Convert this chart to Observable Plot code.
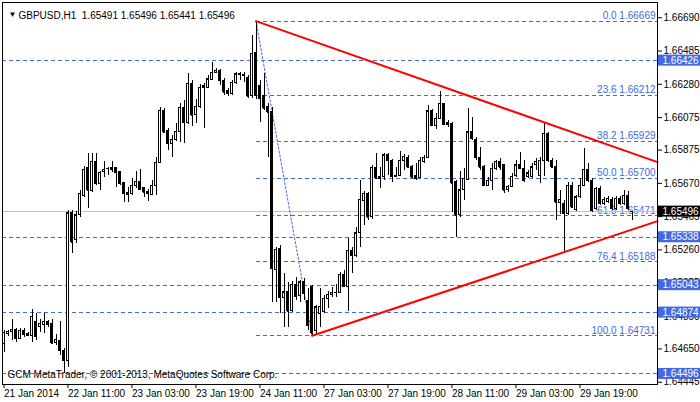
<!DOCTYPE html>
<html><head><meta charset="utf-8">
<script src="https://cdn.jsdelivr.net/npm/d3@7"></script>
<script src="https://cdn.jsdelivr.net/npm/@observablehq/plot@0.6"></script>
<style>body{margin:0;background:#fff} svg{display:block}</style>
</head><body><div id="chart"></div>
<script>
const opens = [1.64683,1.64745,1.64753,1.64768,1.64712,1.64763,1.64743,1.64732,1.64814,1.64784,1.64798,1.64819,1.64804,1.64685,1.64702,1.64640,1.64578,1.65486,1.65318,1.65472,1.65595,1.65765,1.65621,1.65804,1.65667,1.65743,1.65757,1.65753,1.65763,1.65738,1.65671,1.65609,1.65605,1.65652,1.65681,1.65640,1.65615,1.65601,1.65655,1.65794,1.66118,1.65995,1.65913,1.65940,1.65985,1.66135,1.66043,1.66283,1.66088,1.66143,1.66258,1.66258,1.66308,1.66351,1.66365,1.66303,1.66237,1.66221,1.66289,1.66338,1.66330,1.66322,1.66205,1.66474,1.66272,1.66205,1.66143,1.66108,1.65137,1.65266,1.64965,1.64999,1.64886,1.65045,1.64974,1.65061,1.64948,1.65034,1.64763,1.64866,1.64876,1.64958,1.64983,1.64995,1.64995,1.65106,1.65030,1.65256,1.65225,1.65363,1.65564,1.65605,1.65461,1.65765,1.65698,1.65712,1.65843,1.65810,1.65712,1.65718,1.65810,1.65827,1.65769,1.65718,1.65704,1.65800,1.65827,1.66114,1.66026,1.66067,1.66160,1.66040,1.66038,1.65677,1.65472,1.65626,1.65691,1.65985,1.65938,1.65827,1.65769,1.65656,1.65687,1.65759,1.65804,1.65780,1.65626,1.65650,1.65715,1.65780,1.65759,1.65708,1.65708,1.65780,1.65718,1.65810,1.65975,1.65810,1.65769,1.65546,1.65544,1.65482,1.65656,1.65507,1.65584,1.65656,1.65753,1.65687,1.65513,1.65636,1.65544,1.65554,1.65568,1.65513,1.65574,1.65544,1.65595,1.65491];
const highs = [1.64763,1.64763,1.64829,1.64777,1.64774,1.64774,1.64753,1.64891,1.64870,1.64829,1.64870,1.64825,1.64829,1.64739,1.64819,1.64652,1.65502,1.65502,1.65496,1.65626,1.65773,1.65852,1.65852,1.65852,1.65744,1.65806,1.65769,1.65806,1.65769,1.65744,1.65677,1.65646,1.65698,1.65744,1.65753,1.65646,1.65630,1.65687,1.65831,1.66139,1.66129,1.66006,1.65964,1.66036,1.66160,1.66180,1.66344,1.66303,1.66184,1.66279,1.66285,1.66334,1.66416,1.66375,1.66371,1.66314,1.66252,1.66303,1.66354,1.66354,1.66354,1.66334,1.66580,1.66669,1.66303,1.66344,1.66160,1.66139,1.65276,1.65287,1.65116,1.65061,1.65067,1.65092,1.65071,1.65082,1.65020,1.65040,1.64917,1.65020,1.64979,1.65005,1.65026,1.65047,1.65122,1.65133,1.65332,1.65276,1.65400,1.65687,1.65621,1.65615,1.65780,1.65852,1.65765,1.65855,1.65852,1.65815,1.65765,1.65868,1.65847,1.65841,1.65780,1.65790,1.65827,1.65841,1.66149,1.66123,1.66098,1.66237,1.66160,1.66057,1.66046,1.65687,1.65744,1.65759,1.66129,1.66075,1.65952,1.65892,1.65780,1.65708,1.65790,1.65810,1.65821,1.65780,1.65656,1.65728,1.65810,1.65862,1.65810,1.65749,1.65790,1.65821,1.65831,1.66046,1.65983,1.65823,1.65810,1.65626,1.65564,1.65677,1.65675,1.65595,1.65698,1.65887,1.65792,1.65700,1.65646,1.65650,1.65582,1.65589,1.65582,1.65589,1.65589,1.65626,1.65621,1.65496];
const lows = [1.64628,1.64726,1.64702,1.64691,1.64706,1.64722,1.64726,1.64691,1.64702,1.64753,1.64743,1.64784,1.64681,1.64671,1.64609,1.64496,1.64537,1.65236,1.65297,1.65459,1.65582,1.65513,1.65613,1.65656,1.65626,1.65708,1.65718,1.65736,1.65646,1.65656,1.65554,1.65554,1.65595,1.65636,1.65626,1.65584,1.65560,1.65595,1.65595,1.65790,1.65977,1.65872,1.65827,1.65927,1.65923,1.65917,1.66032,1.66020,1.66036,1.66129,1.66006,1.66254,1.66303,1.66344,1.66272,1.66211,1.66206,1.66211,1.66279,1.66303,1.66293,1.66190,1.66190,1.66184,1.66046,1.66118,1.65831,1.64938,1.64938,1.64866,1.64784,1.64784,1.64876,1.64948,1.64938,1.64948,1.64763,1.64731,1.64732,1.64784,1.64868,1.64897,1.64968,1.64968,1.64989,1.65030,1.64880,1.65112,1.65213,1.65276,1.65410,1.65441,1.65445,1.65698,1.65636,1.65687,1.65718,1.65677,1.65708,1.65712,1.65749,1.65759,1.65698,1.65687,1.65698,1.65790,1.65821,1.66020,1.66001,1.66061,1.66026,1.66016,1.65492,1.65338,1.65459,1.65564,1.65687,1.65934,1.65810,1.65749,1.65650,1.65650,1.65626,1.65749,1.65749,1.65605,1.65613,1.65644,1.65709,1.65755,1.65675,1.65698,1.65700,1.65749,1.65667,1.65712,1.65798,1.65761,1.65441,1.65478,1.65246,1.65472,1.65515,1.65496,1.65576,1.65650,1.65675,1.65490,1.65502,1.65533,1.65533,1.65546,1.65502,1.65502,1.65533,1.65533,1.65502,1.65441];
const closes = [1.64751,1.64757,1.64768,1.64712,1.64763,1.64737,1.64731,1.64849,1.64726,1.64804,1.64819,1.64798,1.64685,1.64706,1.64640,1.64578,1.65486,1.65307,1.65472,1.65605,1.65753,1.65626,1.65804,1.65667,1.65735,1.65755,1.65759,1.65763,1.65735,1.65667,1.65605,1.65599,1.65655,1.65681,1.65630,1.65615,1.65605,1.65655,1.65796,1.66118,1.65985,1.65913,1.65940,1.65989,1.66135,1.66043,1.66283,1.66088,1.66143,1.66258,1.66268,1.66311,1.66351,1.66365,1.66303,1.66231,1.66221,1.66289,1.66342,1.66342,1.66337,1.66205,1.66468,1.66211,1.66190,1.66133,1.66108,1.65143,1.65260,1.64965,1.64999,1.64882,1.65045,1.64973,1.65061,1.64989,1.64794,1.64747,1.64907,1.64911,1.64958,1.64985,1.64995,1.64997,1.65106,1.65034,1.65256,1.65225,1.65363,1.65568,1.65605,1.65461,1.65765,1.65701,1.65708,1.65843,1.65810,1.65712,1.65718,1.65810,1.65835,1.65769,1.65708,1.65698,1.65810,1.65827,1.66114,1.66026,1.66067,1.66160,1.66032,1.66032,1.65671,1.65472,1.65626,1.65698,1.65985,1.65944,1.65827,1.65769,1.65656,1.65687,1.65759,1.65804,1.65769,1.65626,1.65650,1.65712,1.65780,1.65759,1.65687,1.65732,1.65769,1.65804,1.65810,1.65975,1.65810,1.65769,1.65554,1.65570,1.65482,1.65656,1.65523,1.65584,1.65656,1.65753,1.65687,1.65502,1.65636,1.65544,1.65568,1.65574,1.65513,1.65574,1.65544,1.65595,1.65513,1.65496];

const timeTickIndex = [0,16,32,48,64,80,96,112,128,144];
const timeTickLabels = ["21 Jan 2014","22 Jan 11:00","23 Jan 03:00","23 Jan 19:00","24 Jan 11:00","27 Jan 03:00","27 Jan 19:00","28 Jan 11:00","29 Jan 03:00","29 Jan 19:00"];
const priceTicks = [1.66690,1.66485,1.66280,1.66075,1.65875,1.65670,1.65465,1.65260,1.65055,1.64850,1.64650,1.64445];

const fibRatios = ["0.0","23.6","38.2","50.0","61.8","76.4","100.0"];
const fibLevels = [1.66669,1.66212,1.65929,1.65700,1.65471,1.65188,1.64731];
const fibHighIndex = 63, fibLowIndex = 77;
const hLevels = [1.66426,1.65338,1.65043,1.64874,1.64496];
const bidPrice = 1.65496;
const upperTrend = [[63,1.66669],[135,1.66046]];
const lowerTrend = [[77,1.64731],[140,1.65246]];
const titleText = "GBPUSD,H1  1.65491 1.65496 1.65441 1.65496";
const footerText = "GCM MetaTrader, \u00A9 2001-2013, MetaQuotes Software Corp.";

const candles = opens.map((o, i) => ({i, open: o, high: highs[i], low: lows[i], close: closes[i], up: closes[i] >= o}));
const xMin = -0.375, xMax = 163.375;
const yMin = 1.64431, yMax = 1.66784;
const blue = "#4169e1";

function ray(a, b) {
  const s = (b[1] - a[1]) / (b[0] - a[0]);
  return [{x: a[0], y: a[1]}, {x: xMax, y: a[1] + s * (xMax - a[0])}];
}
const fibRows = fibLevels.map((v, k) => ({v, label: fibRatios[k] + " " + v.toFixed(5)}));
const fibDiag = [{x: fibHighIndex, y: fibLevels[0]}, {x: fibLowIndex, y: fibLevels[6]}];

const chart = Plot.plot({
  width: 700, height: 402,
  marginLeft: 2, marginRight: 43, marginTop: 2, marginBottom: 18,
  x: {type: "linear", domain: [xMin, xMax], axis: null},
  y: {type: "linear", domain: [yMin, yMax], axis: null},
  style: {fontFamily: "'Liberation Sans', Arial, sans-serif", fontSize: "10px", background: "#fff", color: "#000", overflow: "visible"},
  marks: [
    Plot.ruleY(hLevels, {y: d => d, stroke: blue, strokeDasharray: "4,3", shapeRendering: "crispEdges"}),
    Plot.ruleY(fibLevels, {y: d => d, x1: () => fibHighIndex, x2: () => xMax, stroke: blue, strokeDasharray: "4,3", shapeRendering: "crispEdges"}),
    Plot.text(fibRows, {y: "v", text: "label", frameAnchor: "right", textAnchor: "end", lineAnchor: "bottom", dx: -2, dy: -2, fill: blue}),
    Plot.ruleY([bidPrice], {y: d => d, stroke: "#c0c0c0", shapeRendering: "crispEdges"}),
    Plot.line(fibDiag, {x: "x", y: "y", stroke: blue, strokeDasharray: "2,2", strokeWidth: 1}),
    Plot.ruleX(candles, {x: "i", y1: "low", y2: "high", stroke: "#000", shapeRendering: "crispEdges"}),
    Plot.rect(candles, {x1: d => d.i - 0.25, x2: d => d.i + 0.25, y1: "open", y2: "close", fill: d => d.up ? "#fff" : "#000", stroke: "#000", shapeRendering: "crispEdges"}),
    Plot.ruleY(candles, {y: "close", x1: d => d.i - 0.25, x2: d => d.i + 0.25, stroke: "#000", shapeRendering: "crispEdges"}),
    Plot.line(ray(upperTrend[0], upperTrend[1]), {x: "x", y: "y", stroke: "#ff0000", strokeWidth: 2}),
    Plot.line(ray(lowerTrend[0], lowerTrend[1]), {x: "x", y: "y", stroke: "#ff0000", strokeWidth: 2}),
    Plot.axisY(priceTicks, {anchor: "right", tickSize: 4, tickPadding: 2, tickFormat: d => d.toFixed(5), label: null}),
    Plot.axisX(timeTickIndex, {anchor: "bottom", tickSize: 4, tickPadding: 1, textAnchor: "start", tickFormat: d => timeTickLabels[timeTickIndex.indexOf(d)], label: null}),
    Plot.rect(hLevels, {x1: () => xMax, x2: () => xMax, y1: d => d, y2: d => d, insetLeft: 1, insetRight: -43, insetTop: -5.5, insetBottom: -5.5, fill: blue}),
    Plot.text(hLevels, {y: d => d, text: d => d.toFixed(5), frameAnchor: "right", textAnchor: "start", dx: 5, fill: "#fff"}),
    Plot.rect([bidPrice], {x1: () => xMax, x2: () => xMax, y1: d => d, y2: d => d, insetLeft: 1, insetRight: -43, insetTop: -5.5, insetBottom: -5.5, fill: "#000"}),
    Plot.text([bidPrice], {y: d => d, text: d => d.toFixed(5), frameAnchor: "right", textAnchor: "start", dx: 5, fill: "#fff"}),
    Plot.text(["\u25BC"], {frameAnchor: "top-left", dx: 6, dy: 9, textAnchor: "start", fontSize: 8, fill: "#000"}),
    Plot.text([titleText], {frameAnchor: "top-left", dx: 16, dy: 9, textAnchor: "start", fill: "#000"}),
    Plot.text([footerText], {frameAnchor: "bottom-left", dx: 5, dy: -7, textAnchor: "start", fill: "#000"}),
    Plot.frame({stroke: "#000", shapeRendering: "crispEdges"})
  ]
});
document.getElementById("chart").appendChild(chart);
</script>
</body></html>
